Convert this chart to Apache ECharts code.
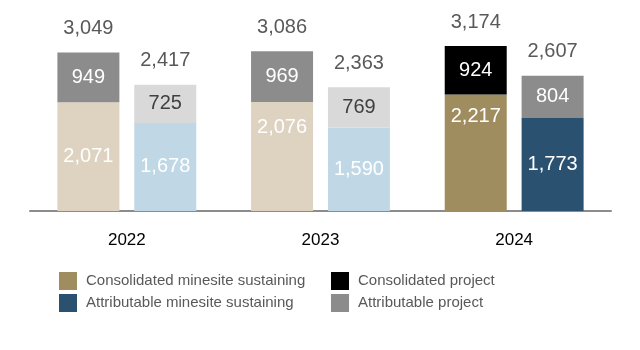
<!DOCTYPE html>
<html>
<head>
<meta charset="UTF-8">
<title>Capital expenditures</title>
<script src="https://cdn.jsdelivr.net/npm/echarts@6/dist/echarts.min.js"></script>
</head>
<body style="margin:0;background:#fff;">
<div id="main" style="width: 640px;height:350px;"></div>
<script type="text/javascript">
var years = ['2022', '2023', '2024'];
var consMinesite = [2071, 2076, 2217];
var consProject = [949, 969, 924];
var consTotal = [3049, 3086, 3174];
var attrMinesite = [1678, 1590, 1773];
var attrProject = [725, 769, 804];
var attrTotal = [2417, 2363, 2607];

// 2022 and 2023 are drawn in faded colours, 2024 in the full palette
var fadedCons = '#ddd3c0', fadedAttr = '#c0d8e6', fadedConsProj = '#8c8c8c', fadedAttrProj = '#d9d9d9';

function fmt(v) {
    return v.toLocaleString('en-US');
}

function items(vals, faded, extra) {
    var out = [];
    for (var i = 0; i < vals.length; i++) {
        var it = { value: vals[i] };
        if (i < 2) it.itemStyle = { color: faded };
        if (extra && extra[i]) it.label = extra[i];
        out.push(it);
    }
    return out;
}

var numLabel = {
    show: true,
    position: 'inside',
    color: '#fff',
    fontSize: 20,
    fontFamily: 'Liberation Sans',
    formatter: function (p) { return fmt(p.value); }
};

function totalSeries(stack, totals) {
    return {
        name: stack + 'total',
        type: 'bar',
        stack: stack,
        barWidth: 62,
        data: [0, 0, 0],
        itemStyle: { color: 'transparent' },
        label: {
            show: true,
            position: 'top',
            distance: 14,
            color: '#595959',
            fontSize: 20,
            fontFamily: 'Liberation Sans',
            formatter: function (p) { return fmt(totals[p.dataIndex]); }
        },
        silent: true
    };
}

function legendCol(left, names) {
    return {
        left: left, top: 272, orient: 'vertical', padding: 0,
        itemWidth: 18, itemHeight: 18, itemGap: 4,
        icon: 'rect',
        textStyle: { color: '#595959', fontSize: 15, fontFamily: 'Liberation Sans', padding: [0, 0, 0, 4] },
        data: names
    };
}

var myChart = echarts.init(document.getElementById('main'));

var option = {
    animation: false,
    grid: { left: 30, right: 29, top: 1, bottom: 139 },
    legend: [
        legendCol(59, ['Consolidated minesite sustaining', 'Attributable minesite sustaining']),
        legendCol(331, ['Consolidated project', 'Attributable project'])
    ],
    xAxis: {
        type: 'category',
        data: years,
        axisLine: { lineStyle: { color: '#8c8c8c', width: 2 } },
        axisTick: { show: false },
        axisLabel: { color: '#000', fontSize: 17, fontFamily: 'Liberation Sans', margin: 21 }
    },
    yAxis: {
        type: 'value',
        min: 0, max: 4000,
        show: false,
        splitLine: { show: false }
    },
    series: [{
        name: 'Consolidated minesite sustaining',
        type: 'bar',
        stack: 'cons',
        barWidth: 62,
        barGap: '24%',
        itemStyle: { color: '#a08d5f' },
        label: numLabel,
        data: items(consMinesite, fadedCons, [null,
            { position: 'insideTop', distance: 15 },
            { position: 'insideTop', distance: 12 }])
    }, {
        name: 'Consolidated project',
        type: 'bar',
        stack: 'cons',
        barWidth: 62,
        itemStyle: { color: '#000' },
        label: numLabel,
        data: items(consProject, fadedConsProj)
    }, totalSeries('cons', consTotal), {
        name: 'Attributable minesite sustaining',
        type: 'bar',
        stack: 'attr',
        barWidth: 62,
        itemStyle: { color: '#2b5170' },
        label: numLabel,
        data: items(attrMinesite, fadedAttr)
    }, {
        name: 'Attributable project',
        type: 'bar',
        stack: 'attr',
        barWidth: 62,
        itemStyle: { color: '#8c8c8c' },
        label: numLabel,
        data: items(attrProject, fadedAttrProj, [{ color: '#404040' }, { color: '#404040' }, null])
    }, totalSeries('attr', attrTotal)]
};

myChart.setOption(option);
</script>
</body>
</html>
